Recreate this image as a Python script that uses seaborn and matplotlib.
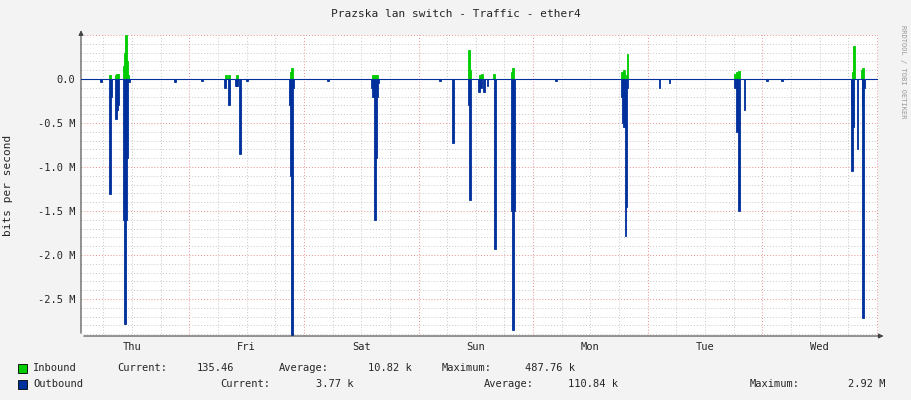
import matplotlib
matplotlib.use("Agg")
import matplotlib.pyplot as plt
import seaborn as sns
import numpy as np

sns.set_style("white")
plt.rcParams['font.family'] = ['DejaVu Sans Mono']

# hours since Thu 00:00 ; values in M bits/s
out_t = [5.53,7.41,7.62,8.67,8.88,9.09,10.35,10.56,10.76,10.97,11.39,21.03,26.68,31.5,32.33,33.8,34.0,34.63,36.1,
         45.1,45.32,45.53,45.74,53.07,62.3,62.5,62.7,62.9,63.1,63.3,63.5,76.5,79.25,82.6,82.8,84.7,85.1,85.7,86.4,
         88.0,91.6,91.8,92.0,100.8,114.6,114.8,115.0,115.3,115.5,115.7,122.4,124.5,138.3,138.7,138.9,139.1,140.2,
         145.0,148.1,162.6,162.8,163.0,163.9,164.9,165.1,165.3]
out_v = [0.03,1.31,0.2,0.45,0.35,0.3,1.6,2.78,1.6,0.9,0.03,0.03,0.02,0.1,0.3,0.08,0.08,0.85,0.02,
         0.3,1.1,2.92,0.1,0.02,0.1,0.2,0.2,1.6,0.9,0.2,0.05,0.02,0.73,0.3,1.37,0.15,0.1,0.15,0.08,
         1.93,1.5,2.85,1.5,0.02,0.2,0.5,0.55,1.78,1.45,0.1,0.1,0.04,0.1,0.6,0.3,1.5,0.35,
         0.02,0.02,0.3,1.05,0.55,0.8,0.3,2.72,0.1]
in_t = [7.4,8.67,8.88,9.09,10.35,10.56,10.76,10.97,11.2,31.7,32.3,34.0,45.3,45.5,62.5,62.9,63.3,82.6,82.8,
        84.9,85.3,87.8,91.6,91.8,114.6,115.0,115.5,115.7,138.3,138.7,139.1,163.0,163.2,164.7,165.1]
in_v = [0.05,0.05,0.06,0.06,0.15,0.3,0.5,0.2,0.05,0.04,0.05,0.04,0.08,0.12,0.05,0.05,0.05,0.33,0.1,
        0.05,0.06,0.06,0.08,0.12,0.08,0.1,0.05,0.28,0.06,0.08,0.09,0.08,0.37,0.1,0.12]
days = ["Thu","Fri","Sat","Sun","Mon","Tue","Wed"]
yticks = [0.0,-0.5,-1.0,-1.5,-2.0,-2.5]
ylabels = ["0.0","-0.5 M","-1.0 M","-1.5 M","-2.0 M","-2.5 M"]

BG = "#f3f3f3"
OUT = "#00309c"
IN = "#00cc00"
fig = plt.figure(figsize=(9.11,4.0), dpi=100, facecolor=BG)
ax = fig.add_axes([81/911, 64/400, 797/911, 301/400])
ax.set_facecolor("white")
xmin, xmax = 1.34, 168.2
ax.set_xlim(xmin, xmax); ax.set_ylim(-2.92, 0.5)

for h in np.arange(0, 170, 6):
    c = "#e89090" if h % 24 == 0 else "#c8c8c8"
    ax.axvline(h, color=c, lw=0.7, ls=(0,(1,2)), zorder=0)
for v in np.arange(-2.9, 0.51, 0.1):
    v = round(v, 1)
    c = "#e89090" if abs(v*2 - round(v*2)) < 1e-6 else "#c8c8c8"
    ax.axhline(v, color=c, lw=0.7, ls=(0,(1,2)), zorder=0)

ax.bar(out_t, [-v for v in out_v], width=0.3, color=OUT, edgecolor=OUT, linewidth=0.6, zorder=2)
ax.bar(in_t, in_v, width=0.3, color=IN, edgecolor=IN, linewidth=0.6, zorder=3)
ax.axhline(0, color=OUT, lw=0.8, zorder=4)

for s in ax.spines.values(): s.set_visible(False)
ax.set_yticks(yticks); ax.set_yticklabels(ylabels)
ax.set_xticks([12+24*i for i in range(7)]); ax.set_xticklabels(days)
ax.tick_params(labelsize=7.5, length=0, pad=4)
ax.set_ylabel("bits per second", fontsize=8)
ax.yaxis.set_label_coords(-0.085, 0.5)
ax.annotate("", xy=(1.0105, 0), xytext=(0, 0), xycoords="axes fraction",
            arrowprops=dict(arrowstyle="-|>", color="#444444", lw=0.8, mutation_scale=7), annotation_clip=False)
ax.annotate("", xy=(0, 1.025), xytext=(0, 0), xycoords="axes fraction",
            arrowprops=dict(arrowstyle="-|>", color="#444444", lw=0.8, mutation_scale=7), annotation_clip=False)

fig.text(456/911, 1-14/400, "Prazska lan switch - Traffic - ether4", ha="center", va="center", fontsize=8)
fig.text(903/911, 0.82, "RRDTOOL / TOBI OETIKER", rotation=270, ha="center", va="center", fontsize=5, color="#999999")

def t(x, y, s):
    fig.text(x/911, 1-y/400, s, ha="left", va="center", fontsize=7.5)
fig.patches.append(plt.Rectangle((18/911, 1-373/400), 9/911, 9/400, transform=fig.transFigure, fc=IN, ec="black", lw=0.6))
fig.patches.append(plt.Rectangle((18/911, 1-389/400), 9/911, 9/400, transform=fig.transFigure, fc=OUT, ec="black", lw=0.6))
for x, s in [(33,"Inbound"),(117,"Current:"),(197,"135.46"),(279,"Average:"),(368,"10.82 k"),(442,"Maximum:"),(525,"487.76 k")]:
    t(x, 368, s)
for x, s in [(33,"Outbound"),(220,"Current:"),(316,"3.77 k"),(484,"Average:"),(568,"110.84 k"),(750,"Maximum:"),(848,"2.92 M")]:
    t(x, 384, s)

fig.savefig("out.png", dpi=100, facecolor=BG)
